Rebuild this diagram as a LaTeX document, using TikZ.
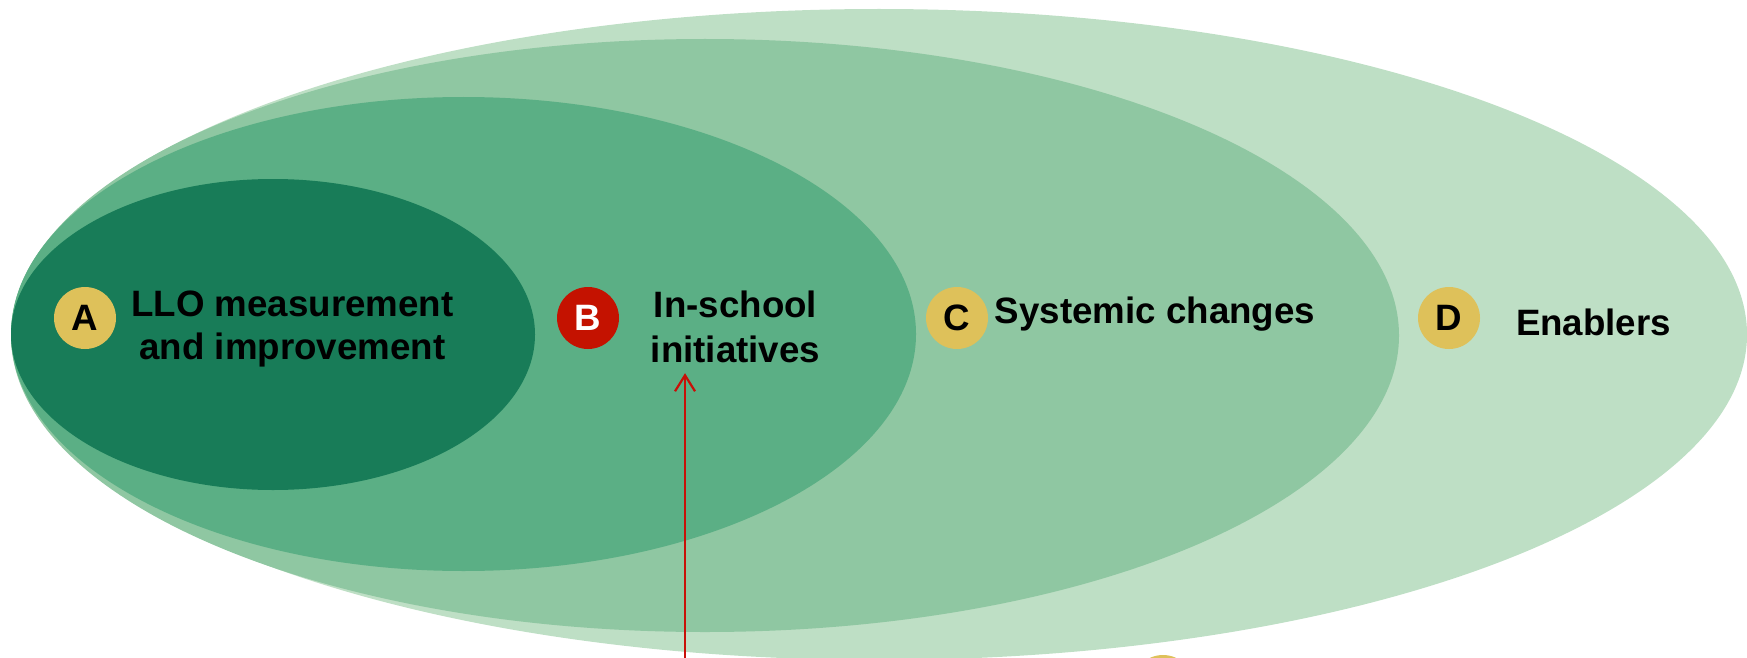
\documentclass[tikz,border=0pt]{standalone}
\usepackage{fontspec}
\setmainfont{Liberation Sans}
\usetikzlibrary{arrows.meta}
\definecolor{ellD}{RGB}{190,223,197}
\definecolor{ellC}{RGB}{143,199,162}
\definecolor{ellB}{RGB}{91,175,133}
\definecolor{ellA}{RGB}{24,124,88}
\definecolor{badgeY}{RGB}{222,193,90}
\definecolor{badgeR}{RGB}{196,18,0}
\definecolor{arrowR}{RGB}{200,16,8}
\begin{document}
\begin{tikzpicture}[x=1pt,y=-1pt,
  badge/.style={circle,minimum size=62pt,inner sep=0pt,fill=badgeY,text=black,
    font=\bfseries\fontsize{36.7}{44}\selectfont},
  lbltext/.style={font=\bfseries\fontsize{36.7}{44}\selectfont,inner sep=0pt,anchor=base,text=black},
  pointer/.style={draw=arrowR,line width=2.2pt,-{Straight Barb[length=16pt,width=20pt]}}]
\useasboundingbox (0,0) rectangle (1747,658);
\clip (0,0) rectangle (1747,658);
% nested ellipses
\fill[ellD] (879,334.5) ellipse [x radius=868pt, y radius=325.5pt];
\fill[ellC] (705,335.5) ellipse [x radius=694pt, y radius=296.5pt];
\fill[ellB] (463.5,334) ellipse [x radius=452.5pt, y radius=237pt];
\fill[ellA] (273,334.5) ellipse [x radius=262pt, y radius=155.5pt];
% badges
\node[badge] (badgeA) at (85,318) {A};
\node[badge,fill=badgeR,text=white] (badgeB) at (588,318) {B};
\node[badge] (badgeC) at (957,318) {C};
\node[badge] (badgeD) at (1449,318) {D};
\node[badge] (badgeE) at (1163,686) {};
% labels
\node[lbltext] (Atext) at (292.5,359)
  {\fontsize{36.7}{43}\selectfont\begin{tabular}[b]{@{}c@{}}LLO measurement\\and improvement\end{tabular}};
\node[lbltext] (Btext) at (735.5,362)
  {\fontsize{36.7}{45}\selectfont\begin{tabular}[b]{@{}c@{}}In-school\\initiatives\end{tabular}};
\node[lbltext] (Ctext) at (1155,323) {Systemic changes};
\node[lbltext] (Dtext) at (1593.5,335) {Enablers};
% pointer
\coordinate (foot) at (685,672);
\draw[pointer,shorten >=-2.5pt] (foot) -- (foot |- Btext.south);
\end{tikzpicture}
\end{document}
